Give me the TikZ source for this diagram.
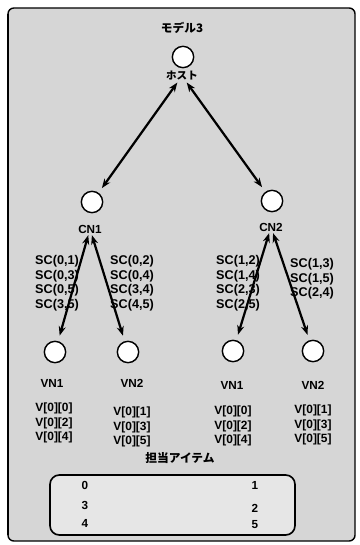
\documentclass[tikz,border=0pt]{standalone}
\usepackage{fontspec}
\setmainfont{Liberation Sans}
\newfontfamily\jpfont{Noto Sans CJK JP}
\usetikzlibrary{arrows.meta, positioning}
\definecolor{mdScreen}{HTML}{D6D6D6}
\definecolor{mdInner}{HTML}{E6E6E6}

\begin{document}
\begin{tikzpicture}[x=0.03cm, y=-0.03cm,
  proc/.style={draw, fill=white, circle, minimum size=0.64cm, inner sep=0pt, line width=1.2pt},
  lab/.style={font=\fontsize{10}{12}\selectfont\bfseries, inner sep=1.5pt},
  jlab/.style={font=\fontsize{10}{12}\selectfont\jpfont\bfseries, inner sep=1.5pt},
  sclist/.style={font=\fontsize{10.8}{12.4}\selectfont\bfseries, align=left, inner sep=0pt, anchor=west},
  vlist/.style={font=\fontsize{10.2}{12.6}\selectfont\bfseries, align=center, inner sep=0pt},
  num/.style={font=\fontsize{10}{12}\selectfont\bfseries, inner sep=0pt},
  arr/.style={{Stealth[length=8pt,width=6pt]}-{Stealth[length=8pt,width=6pt]}, line width=1.9pt, shorten >=0.17cm},
  frame/.style={draw, line width=1.2pt, rounded corners=5pt}
]
  \useasboundingbox (0,0) rectangle (359,545);
  \draw[frame, fill=mdScreen] (8,8) rectangle (355,541);
  \draw[line width=2.2pt] (8,14) -- (8,535);

  \node[jlab] (title) at (182,28) {モデル3};
  \node[proc] (host) at (183,57) {};
  \node[jlab, font=\fontsize{9}{11}\selectfont\jpfont\bfseries] (hostlbl) at (182,76) {ホスト};

  \node[proc] (cn1) at (92,202) {};
  \node[lab] (cn1lbl) at (90,229) {CN1};
  \node[proc] (cn2) at (272,201) {};
  \node[lab] (cn2lbl) at (271,227) {CN2};

  \node[sclist] (sc1a) at (35,283) {SC(0,1)\\SC(0,3)\\SC(0,5)\\SC(3,5)};
  \node[sclist] (sc1b) at (110,283) {SC(0,2)\\SC(0,4)\\SC(3,4)\\SC(4,5)};
  \node[sclist] (sc2a) at (216,283) {SC(1,2)\\SC(1,4)\\SC(2,3)\\SC(2,5)};
  \node[sclist] (sc2b) at (290,279) {SC(1,3)\\SC(1,5)\\SC(2,4)};

  \node[proc] (vn11) at (55,352) {};
  \node[proc] (vn12) at (128,352) {};
  \node[proc] (vn21) at (233,351) {};
  \node[proc] (vn22) at (313,351) {};

  \node[lab] (vn11lbl) at (52,383) {VN1};
  \node[lab] (vn12lbl) at (132,383) {VN2};
  \node[lab] (vn21lbl) at (232,385) {VN1};
  \node[lab] (vn22lbl) at (313,385) {VN2};

  \node[vlist] (v11) at (54,423) {V[0][0]\\V[0][2]\\V[0][4]};
  \node[vlist] (v12) at (132,427) {V[0][1]\\V[0][3]\\V[0][5]};
  \node[vlist] (v21) at (233,426) {V[0][0]\\V[0][2]\\V[0][4]};
  \node[vlist] (v22) at (313,425) {V[0][1]\\V[0][3]\\V[0][5]};

  \node[jlab] (items) at (180,458) {担当アイテム};
  \draw[line width=1.4pt, rounded corners=8pt, fill=mdInner] (50,475) rectangle (295,535);
  \node[num] (i0) at (85,485) {0};
  \node[num] (i3) at (85,505) {3};
  \node[num] (i4) at (85,523) {4};
  \node[num] (i1) at (255,485) {1};
  \node[num] (i2) at (255,508) {2};
  \node[num] (i5) at (255,525) {5};

  \draw[arr] (hostlbl) -- (cn1);
  \draw[arr] (hostlbl) -- (cn2);
  \draw[arr] (cn1lbl) -- (vn11);
  \draw[arr] (cn1lbl) -- (vn12);
  \draw[arr] (cn2lbl) -- (vn21);
  \draw[arr] (cn2lbl) -- (vn22);
\end{tikzpicture}
\end{document}
